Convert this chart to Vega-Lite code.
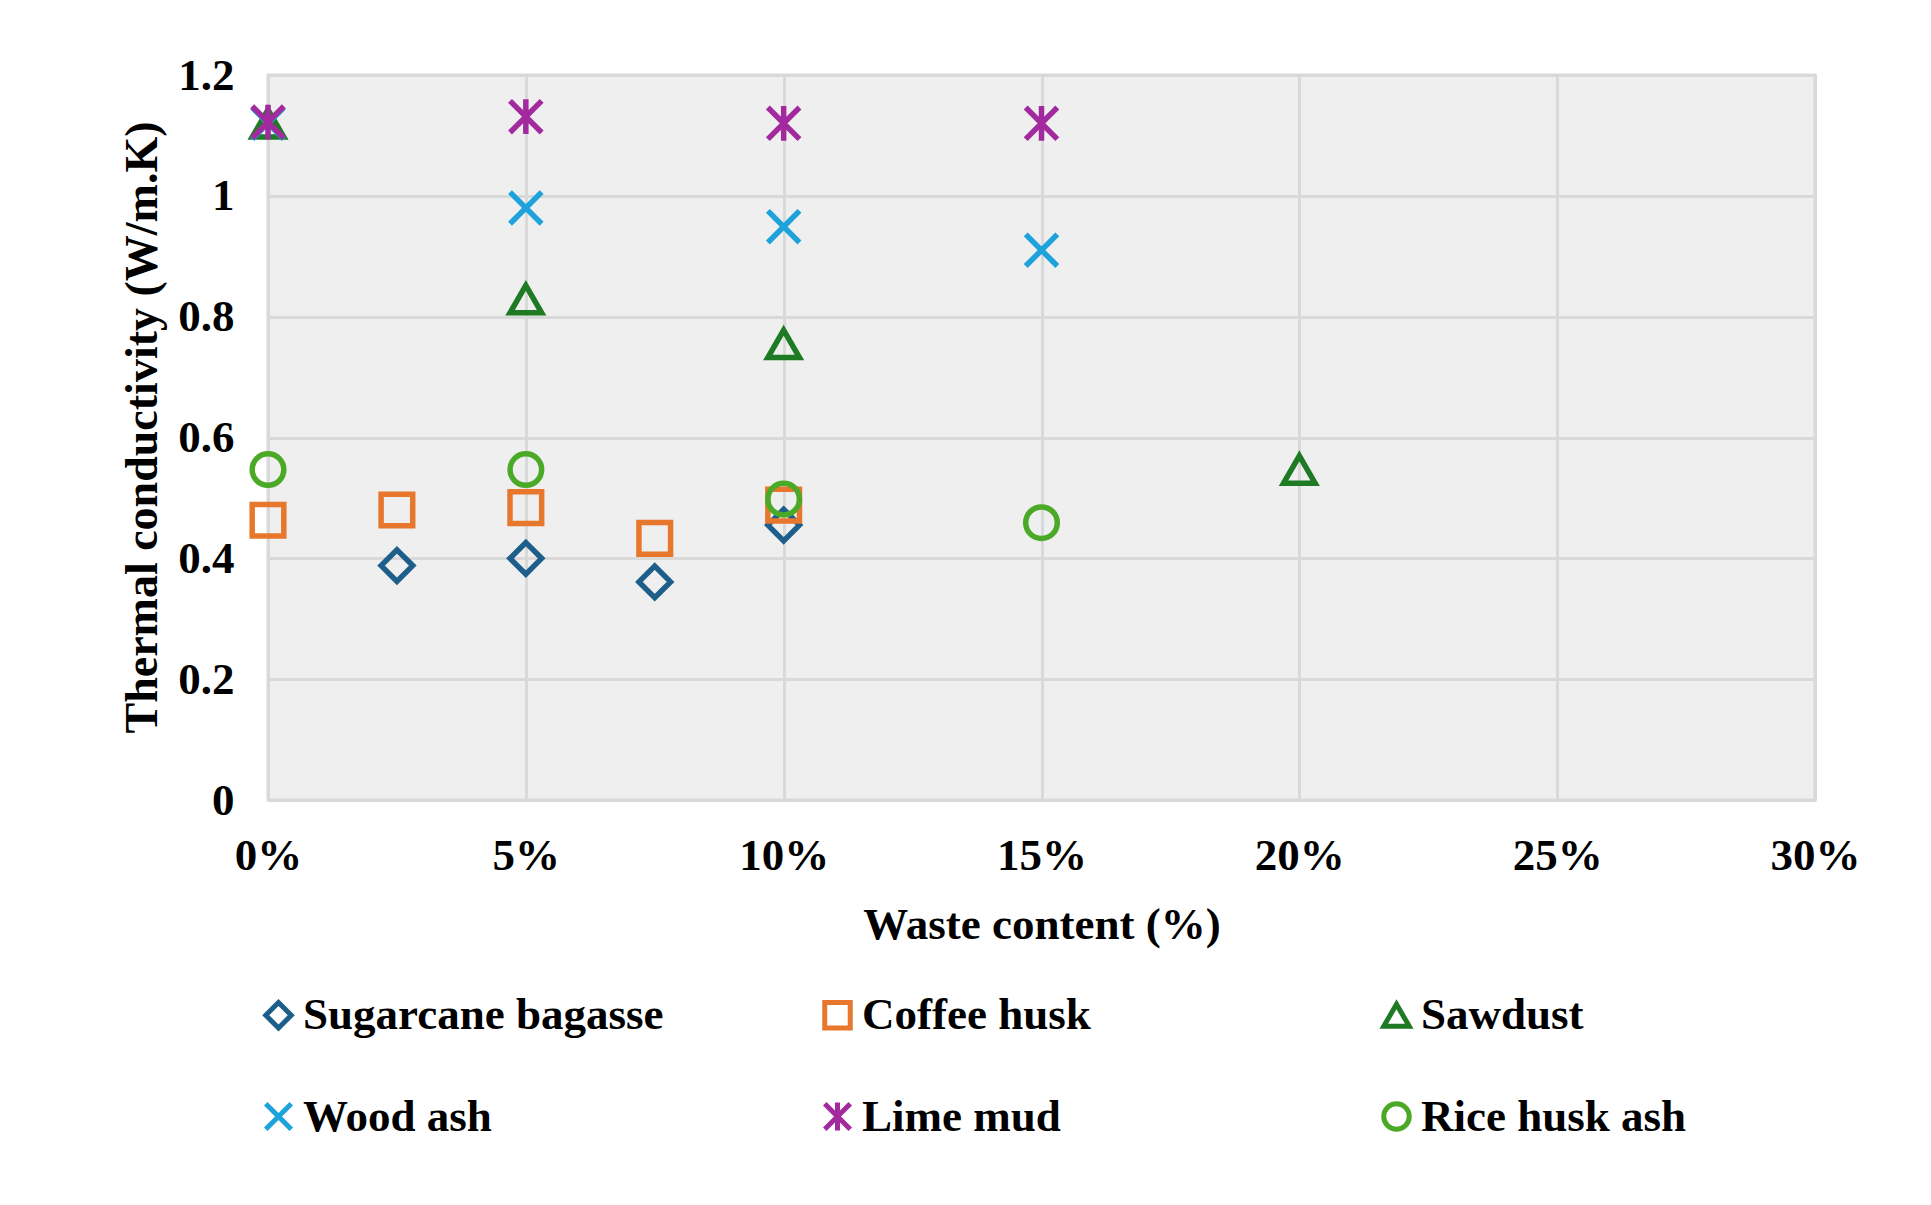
{
  "$schema": "https://vega.github.io/schema/vega-lite/v6.json",
  "width": 1547,
  "height": 725,
  "autosize": {"type": "none"},
  "padding": {"left": 268, "top": 75, "right": 116, "bottom": 405},
  "background": "white",
  "config": {
    "font": "Liberation Serif",
    "view": {"stroke": "#d9d9d9", "strokeWidth": 3, "fill": "#efefef"},
    "axis": {
      "labelFont": "Liberation Serif",
      "labelFontWeight": "bold",
      "labelFontSize": 45,
      "labelColor": "black",
      "labelFlush": false,
      "titleFont": "Liberation Serif",
      "titleFontWeight": "bold",
      "titleFontSize": 45,
      "titleColor": "black",
      "domain": false,
      "ticks": false,
      "gridColor": "#d9d9d9",
      "gridWidth": 3,
      "gridOpacity": 1
    },
    "legend": {
      "labelFont": "Liberation Serif",
      "labelFontWeight": "bold",
      "labelFontSize": 45,
      "labelColor": "black",
      "labelLimit": 0
    }
  },
  "data": {
    "values": [
      {"series": "Sugarcane bagasse", "waste": 0.025, "k": 0.388},
      {"series": "Sugarcane bagasse", "waste": 0.05, "k": 0.40},
      {"series": "Sugarcane bagasse", "waste": 0.075, "k": 0.361},
      {"series": "Sugarcane bagasse", "waste": 0.10, "k": 0.455},
      {"series": "Coffee husk", "waste": 0.0, "k": 0.463},
      {"series": "Coffee husk", "waste": 0.025, "k": 0.48},
      {"series": "Coffee husk", "waste": 0.05, "k": 0.484},
      {"series": "Coffee husk", "waste": 0.075, "k": 0.433},
      {"series": "Coffee husk", "waste": 0.10, "k": 0.488},
      {"series": "Sawdust", "waste": 0.0, "k": 1.12},
      {"series": "Sawdust", "waste": 0.05, "k": 0.829},
      {"series": "Sawdust", "waste": 0.10, "k": 0.755},
      {"series": "Sawdust", "waste": 0.20, "k": 0.547},
      {"series": "Wood ash", "waste": 0.0, "k": 1.12},
      {"series": "Wood ash", "waste": 0.05, "k": 0.98},
      {"series": "Wood ash", "waste": 0.10, "k": 0.949},
      {"series": "Wood ash", "waste": 0.15, "k": 0.91},
      {"series": "Lime mud", "waste": 0.0, "k": 1.122},
      {"series": "Lime mud", "waste": 0.05, "k": 1.131},
      {"series": "Lime mud", "waste": 0.10, "k": 1.12},
      {"series": "Lime mud", "waste": 0.15, "k": 1.12},
      {"series": "Rice husk ash", "waste": 0.0, "k": 0.547},
      {"series": "Rice husk ash", "waste": 0.05, "k": 0.547},
      {"series": "Rice husk ash", "waste": 0.10, "k": 0.498},
      {"series": "Rice husk ash", "waste": 0.15, "k": 0.459}
    ]
  },
  "mark": {"type": "point", "filled": false, "strokeWidth": 5.5, "size": 1000, "opacity": 1},
  "encoding": {
    "x": {
      "field": "waste",
      "type": "quantitative",
      "scale": {"domain": [0, 0.3], "nice": false, "zero": false},
      "axis": {
        "values": [0, 0.05, 0.1, 0.15, 0.2, 0.25, 0.3],
        "format": ".0%",
        "labelPadding": 33,
        "title": "Waste content (%)",
        "titlePadding": 24
      }
    },
    "y": {
      "field": "k",
      "type": "quantitative",
      "scale": {"domain": [0, 1.2], "nice": false},
      "axis": {
        "values": [0, 0.2, 0.4, 0.6, 0.8, 1.0, 1.2],
        "format": "~g",
        "labelPadding": 34,
        "title": "Thermal conductivity (W/m.K)",
        "titleFontSize": 46,
        "titlePadding": 11,
        "titleY": 352
      }
    },
    "color": {
      "field": "series",
      "type": "nominal",
      "scale": {
        "domain": ["Sugarcane bagasse", "Coffee husk", "Sawdust", "Wood ash", "Lime mud", "Rice husk ash"],
        "range": ["#1d5f8a", "#e8772e", "#1e7b24", "#1ea2dc", "#a22a9e", "#4aaa28"]
      },
      "legend": {
        "title": null,
        "orient": "none",
        "direction": "horizontal",
        "columns": 3,
        "gridAlign": "all",
        "legendX": -12,
        "legendY": 917,
        "symbolSize": 650,
        "symbolStrokeWidth": 5,
        "labelOffset": 2,
        "columnPadding": 150,
        "rowPadding": 53
      }
    },
    "shape": {
      "field": "series",
      "type": "nominal",
      "scale": {
        "domain": ["Sugarcane bagasse", "Coffee husk", "Sawdust", "Wood ash", "Lime mud", "Rice husk ash"],
        "range": ["diamond", "square", "triangle-up", "M-1,-1L1,1M-1,1L1,-1", "M-1,-1L1,1M-1,1L1,-1M0,-1.1L0,1.1", "circle"]
      },
      "legend": null
    }
  }
}
